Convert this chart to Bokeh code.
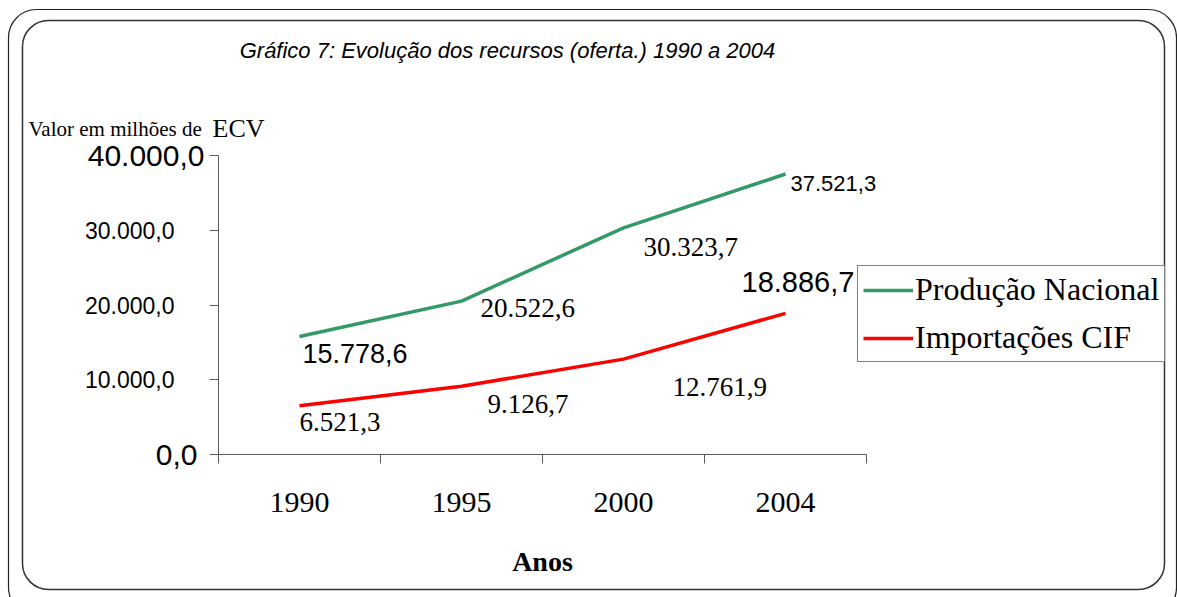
from bokeh.plotting import figure
from bokeh.models import (Label, Legend, LegendItem, FixedTicker, BoxAnnotation, LinearAxis,
                          Range1d)
from bokeh.embed import file_html
from bokeh.resources import INLINE

# ---- data ----
years = ["1990", "1995", "2000", "2004"]
producao_nacional = [15778.6, 20522.6, 30323.7, 37521.3]
importacoes_cif = [6521.3, 9126.7, 12761.9, 18886.7]
y_ticks = [0, 10000, 20000, 30000, 40000]
series_names = ["Produção Nacional", "Importações CIF"]
title_text = "Gráfico 7: Evolução dos recursos (oferta.) 1990 a 2004"
y_title = "Valor em milhões de"
y_unit = "ECV"
x_title = "Anos"

# ---- layout / styles ----
W, H = 1177, 597
PL, PR, PT, PB = 218, 866, 155, 454          # plot area in canvas pixels
SERIF = "Liberation Serif"
SANS = "Liberation Sans"
AXIS = "#5a5a5a"
GREEN = "#339966"
RED = "#ff0000"

prod_label_style = [(3, -17, SANS, 27), (19, -7, SERIF, 27), (20, -19, SERIF, 27), (5, -9, SANS, 22)]
imp_label_style = [(0, -16, SERIF, 27), (26, -18, SERIF, 27), (49, -28, SERIF, 27), (-44, 31, SANS, 29)]
ytick_style = {0: (-21, 30), 10000: (-44, 23), 20000: (-44, 23), 30000: (-44, 23), 40000: (-14, 30)}


def fmt(v):
    s = f"{v:,.1f}"
    return s.replace(",", "X").replace(".", ",").replace("X", ".")


n = len(years)
xs = [i + 0.5 for i in range(n)]
ymax = y_ticks[-1]

# ranges so that the data area lands on the plot-area pixels while the frame fills the canvas
kx = n / (PR - PL)
ky = ymax / (PB - PT)
x_range = Range1d(-PL * kx, n + (W - PR) * kx)
y_range = Range1d(-(H - PB) * ky, ymax + PT * ky)

p = figure(width=W, height=H, x_range=x_range, y_range=y_range,
           output_backend="svg", toolbar_location=None,
           x_axis_location=None, y_axis_location=None,
           min_border=0)
p.background_fill_color = "white"
p.border_fill_color = "white"
p.outline_line_color = None
p.grid.visible = False

# y axis at x = 0: ticks only (labels drawn separately with mixed sizes)
yaxis = LinearAxis(fixed_location=0, bounds=(0, ymax),
                   ticker=FixedTicker(ticks=y_ticks, minor_ticks=[]),
                   major_label_overrides={v: "" for v in y_ticks},
                   major_tick_out=9, major_tick_in=0,
                   axis_line_color=AXIS, major_tick_line_color=AXIS)
p.add_layout(yaxis, "left")

# x axis at y = 0: category labels centred, tick marks between categories
xaxis = LinearAxis(fixed_location=0, bounds=(0, n),
                   ticker=FixedTicker(ticks=xs, minor_ticks=list(range(n + 1))),
                   major_label_overrides={x: y for x, y in zip(xs, years)},
                   major_tick_line_color=None, major_tick_out=0, major_tick_in=0,
                   minor_tick_out=9, minor_tick_in=0, minor_tick_line_color=AXIS,
                   axis_line_color=AXIS,
                   major_label_text_font=SERIF, major_label_text_font_size="30px",
                   major_label_text_color="black", major_label_standoff=29,
                   axis_label=x_title, axis_label_text_font=SERIF,
                   axis_label_text_font_size="28px", axis_label_text_font_style="bold",
                   axis_label_text_color="black", axis_label_standoff=31)
p.add_layout(xaxis, "below")

r1 = p.line(xs, producao_nacional, line_color=GREEN, line_width=3.5)
r2 = p.line(xs, importacoes_cif, line_color=RED, line_width=3.5)

for v in y_ticks:
    off, size = ytick_style[v]
    p.add_layout(Label(x=0, y=v, x_offset=off, text=fmt(v), text_align="right",
                       text_baseline="middle", text_font=SANS, text_font_size=f"{size}px",
                       text_color="black"))

for series, style in ((producao_nacional, prod_label_style), (importacoes_cif, imp_label_style)):
    for x, v, (dx, dy, font, size) in zip(xs, series, style):
        p.add_layout(Label(x=x, y=v, x_offset=dx, y_offset=dy, text=fmt(v), text_align="left",
                           text_baseline="middle", text_font=font, text_font_size=f"{size}px",
                           text_color="black"))

# title and y-axis title
p.add_layout(Label(x=0, y=ymax, x_offset=289, y_offset=105, text=title_text,
                   text_align="center", text_baseline="middle", text_font=SANS,
                   text_font_style="italic", text_font_size="22px", text_color="black"))
p.add_layout(Label(x=0, y=ymax, x_offset=-190, y_offset=27, text=y_title,
                   text_align="left", text_baseline="alphabetic", text_font=SERIF,
                   text_font_size="21px", text_color="black"))
p.add_layout(Label(x=0, y=ymax, x_offset=-6, y_offset=27, text=y_unit,
                   text_align="left", text_baseline="alphabetic", text_font=SERIF,
                   text_font_size="26px", text_color="black"))

legend = Legend(items=[LegendItem(label=series_names[0], renderers=[r1]),
                       LegendItem(label=series_names[1], renderers=[r2])],
                location=(857, H - 362), label_text_font=SERIF, label_text_font_size="32px",
                label_text_color="black", glyph_width=50, glyph_height=20, label_standoff=2,
                spacing=11, padding=5, margin=0, border_line_color="black", border_line_width=1,
                background_fill_color="white", background_fill_alpha=1)
p.add_layout(legend)

# rounded double frame of the original page
p.add_layout(BoxAnnotation(left=8, right=1176, top=9, bottom=615, left_units="canvas",
                           right_units="canvas", top_units="canvas", bottom_units="canvas",
                           fill_color=None, line_color="#222222", line_alpha=1.0,
                           line_width=1.2, border_radius=28))
p.add_layout(BoxAnnotation(left=22, right=1164, top=20, bottom=589, left_units="canvas",
                           right_units="canvas", top_units="canvas", bottom_units="canvas",
                           fill_color=None, line_color="#333333", line_alpha=1.0,
                           line_width=1.5, border_radius=26))

open("out.html", "w").write(file_html(p, INLINE))
